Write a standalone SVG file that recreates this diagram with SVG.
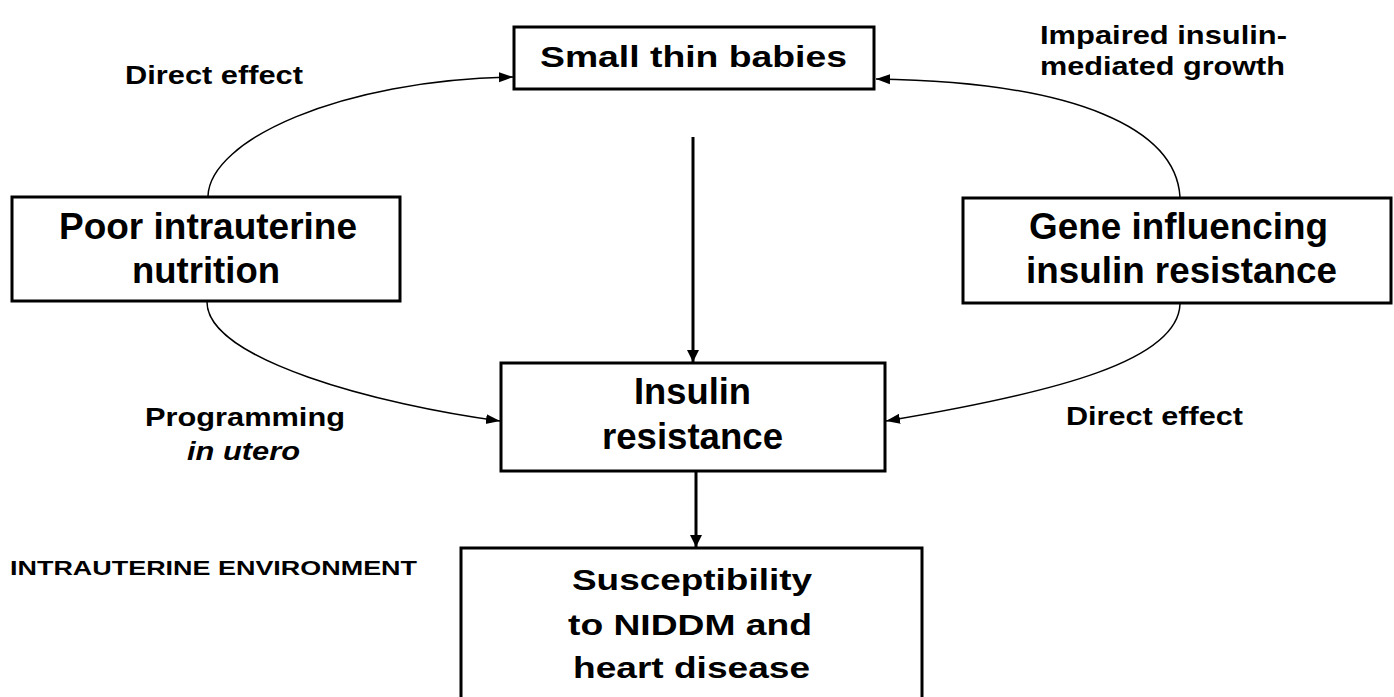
<svg xmlns="http://www.w3.org/2000/svg" width="1394" height="697" viewBox="0 0 1394 697">
<style>
.box{fill:#fff;stroke:#000;stroke-width:3}
.t{font-family:"Liberation Sans",Arial,sans-serif;font-weight:bold;fill:#000}
.thin{fill:none;stroke:#000;stroke-width:1.5}
.thick{fill:none;stroke:#000;stroke-width:3}
</style>
<defs>
<marker id="ah" markerUnits="userSpaceOnUse" markerWidth="14" markerHeight="12" viewBox="0 0 14 12" refX="14" refY="6" orient="auto">
<path d="M0,1 L14,6 L0,11 z" fill="#000"/>
</marker>
<marker id="ahs" markerUnits="userSpaceOnUse" markerWidth="12" markerHeight="12" viewBox="0 0 12 12" refX="12" refY="6" orient="auto">
<path d="M0,0 L12,6 L0,12 z" fill="#000"/>
</marker>
</defs>
<rect width="1394" height="697" fill="#fff"/>
<g id="connectors">
<path class="thin" d="M208,196 C210,140 340,80 513,77" marker-end="url(#ah)"/>
<path class="thin" d="M1180,197 C1176,130 1080,82 876,79" marker-end="url(#ah)"/>
<path class="thin" d="M207,302 C207,360 380,405 500,421" marker-end="url(#ah)"/>
<path class="thin" d="M1180,304 C1178,360 1060,392 886,421" marker-end="url(#ah)"/>
<line class="thick" x1="693" y1="137" x2="693" y2="362" marker-end="url(#ahs)"/>
<line class="thick" x1="696" y1="471" x2="696" y2="547" marker-end="url(#ahs)"/>
</g>
<g id="small-thin-babies">
<rect class="box" x="514" y="27" width="360" height="62"/>
<text class="t" x="540" y="67" font-size="30" textLength="307" lengthAdjust="spacingAndGlyphs">Small thin babies</text>
</g>
<g id="poor-nutrition">
<rect class="box" x="12" y="197" width="388" height="104"/>
<text class="t" x="59" y="239" font-size="36" textLength="298" lengthAdjust="spacingAndGlyphs">Poor intrauterine</text>
<text class="t" x="132" y="283" font-size="36" textLength="148" lengthAdjust="spacingAndGlyphs">nutrition</text>
</g>
<g id="gene">
<rect class="box" x="963" y="198" width="428" height="105"/>
<text class="t" x="1029" y="239" font-size="36" textLength="299" lengthAdjust="spacingAndGlyphs">Gene influencing</text>
<text class="t" x="1026" y="283" font-size="36" textLength="311" lengthAdjust="spacingAndGlyphs">insulin resistance</text>
</g>
<g id="insulin-resistance">
<rect class="box" x="501" y="363" width="384" height="108"/>
<text class="t" x="634" y="404" font-size="36" textLength="117" lengthAdjust="spacingAndGlyphs">Insulin</text>
<text class="t" x="602" y="449" font-size="36" textLength="181" lengthAdjust="spacingAndGlyphs">resistance</text>
</g>
<g id="susceptibility">
<rect class="box" x="461" y="548" width="461" height="160"/>
<text class="t" x="572" y="590" font-size="30" textLength="240" lengthAdjust="spacingAndGlyphs">Susceptibility</text>
<text class="t" x="568" y="635" font-size="30" textLength="244" lengthAdjust="spacingAndGlyphs">to NIDDM and</text>
<text class="t" x="573" y="678" font-size="30" textLength="237" lengthAdjust="spacingAndGlyphs">heart disease</text>
</g>
<g id="labels">
<text class="t" x="125" y="84" font-size="25" textLength="178" lengthAdjust="spacingAndGlyphs">Direct effect</text>
<text class="t" x="1040" y="44" font-size="25" textLength="247" lengthAdjust="spacingAndGlyphs">Impaired insulin-</text>
<text class="t" x="1040" y="75" font-size="25" textLength="245" lengthAdjust="spacingAndGlyphs">mediated growth</text>
<text class="t" x="145" y="426" font-size="26" textLength="200" lengthAdjust="spacingAndGlyphs">Programming</text>
<text class="t" x="187" y="460" font-size="26" font-style="italic" textLength="113" lengthAdjust="spacingAndGlyphs">in utero</text>
<text class="t" x="1066" y="425" font-size="25" textLength="177" lengthAdjust="spacingAndGlyphs">Direct effect</text>
<text class="t" x="10" y="575" font-size="21" textLength="407" lengthAdjust="spacingAndGlyphs">INTRAUTERINE ENVIRONMENT</text>
</g>
</svg>
